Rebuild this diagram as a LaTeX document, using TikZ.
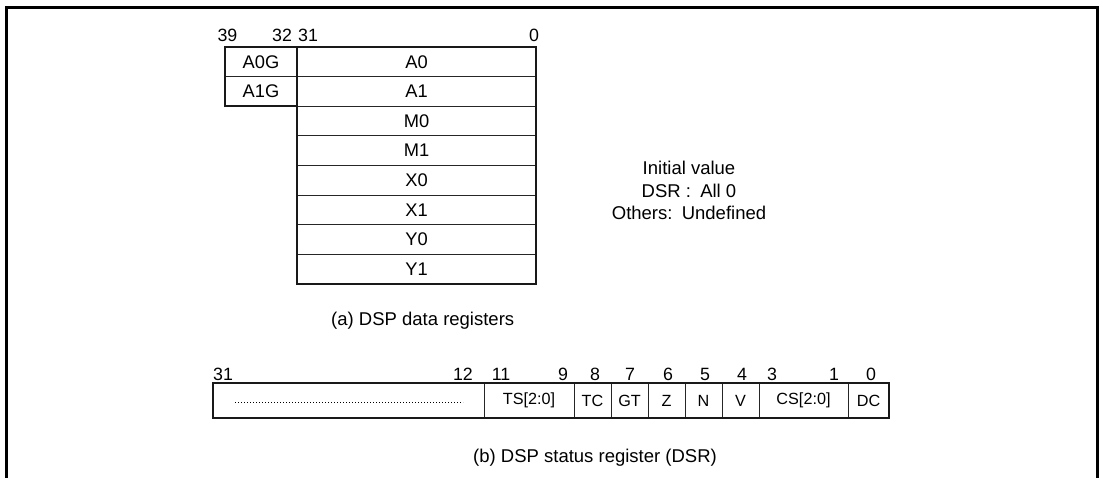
\documentclass[tikz,border=0pt]{standalone}
\usepackage{fontspec}
\setmainfont{Liberation Sans}
\begin{document}
\begin{tikzpicture}[x=1pt,y=-1pt,
  cell/.style={draw=black!85, line width=0.9pt, inner sep=0pt, outer sep=0pt, anchor=north west, minimum height=29.625pt, font=\fontsize{18.3}{21}\selectfont},
  field/.style={draw=black!85, line width=0.9pt, inner sep=0pt, outer sep=0pt, anchor=north west, minimum height=35pt, font=\fontsize{16.2}{19}\selectfont},
  bitnum/.style={inner sep=0pt, anchor=base, font=\fontsize{17.8}{20}\selectfont},
  txt/.style={inner sep=0pt, anchor=base, font=\fontsize{18.5}{21}\selectfont},
  outline/.style={line width=2pt, black!90},
  frame/.style={line width=3pt, black}]
\useasboundingbox (0,0) rectangle (1103,478);
% outer frame (open at the bottom)
\coordinate (fbl) at (6,478);
\coordinate (ftl) at (6,7.5);
\coordinate (ftr) at (1097.5,7.5);
\coordinate (fbr) at (1097.5,478);
\draw[frame] (fbl) -- (ftl) -- (ftr) -- (fbr);

% (a) DSP data registers
\foreach \n [count=\i from 0] in {A0,A1,M0,M1,X0,X1,Y0,Y1}
  \node[cell, minimum width=239pt] (\n) at (297,{47+\i*29.625}) {\n};
\node[cell, minimum width=72pt] (A0G) at (225,47) {A0G};
\node[cell, minimum width=72pt] (A1G) at (225,76.625) {A1G};
\draw[outline] (A0G.north west) rectangle (A1G.south east);
\draw[outline] (A0.north west) rectangle (Y1.south east);

\node[bitnum] (b39) at (227.5,42) {39};
\node[bitnum] (b32) at (282,42) {32};
\node[bitnum] (b31) at (308,42) {31};
\node[bitnum] (b0) at (534,42) {0};

\node[txt, anchor=base west] (capa) at (331,326) {(a) DSP data registers};

% initial value note
\node[txt] (init1) at (689,175) {Initial value};
\node[txt] (init2) at (689,198) {DSR :\hspace{0.5em}All 0};
\node[txt] (init3) at (689,220) {Others:\hspace{0.5em}Undefined};

% (b) DSP status register
\node[field, minimum width=271pt] (res) at (213,383) {};
\node[field, minimum width=90pt] (TS) at (484,383) {TS[2:0]};
\node[field, minimum width=37pt] (TC) at (574,383) {TC};
\node[field, minimum width=37pt] (GT) at (611,383) {GT};
\node[field, minimum width=37pt] (Z) at (648,383) {Z};
\node[field, minimum width=37pt] (N) at (685,383) {N};
\node[field, minimum width=37pt] (V) at (722,383) {V};
\node[field, minimum width=89pt] (CS) at (759,383) {CS[2:0]};
\node[field, minimum width=41pt] (DC) at (848,383) {DC};
\draw[outline] (res.north west) rectangle (DC.south east);
\draw[line width=1pt, dash pattern=on 0.9pt off 2.1pt] ([xshift=22pt,yshift=-1.5pt]res.west) -- ([xshift=-21pt,yshift=-1.5pt]res.east);

\node[bitnum, anchor=base west] (d31) at (213,380) {31};
\node[bitnum, anchor=base east] (d12) at (473,380) {12};
\node[bitnum] (d11) at (501,380) {11};
\node[bitnum] (d9) at (563,380) {9};
\node[bitnum] (d8) at (595,380) {8};
\node[bitnum] (d7) at (630,380) {7};
\node[bitnum] (d6) at (668,380) {6};
\node[bitnum] (d5) at (705,380) {5};
\node[bitnum] (d4) at (742,380) {4};
\node[bitnum] (d3) at (772,380) {3};
\node[bitnum] (d1) at (834,380) {1};
\node[bitnum] (d0) at (871,380) {0};

\node[txt, anchor=base west] (capb) at (473,462) {(b) DSP status register (DSR)};
\end{tikzpicture}
\end{document}
